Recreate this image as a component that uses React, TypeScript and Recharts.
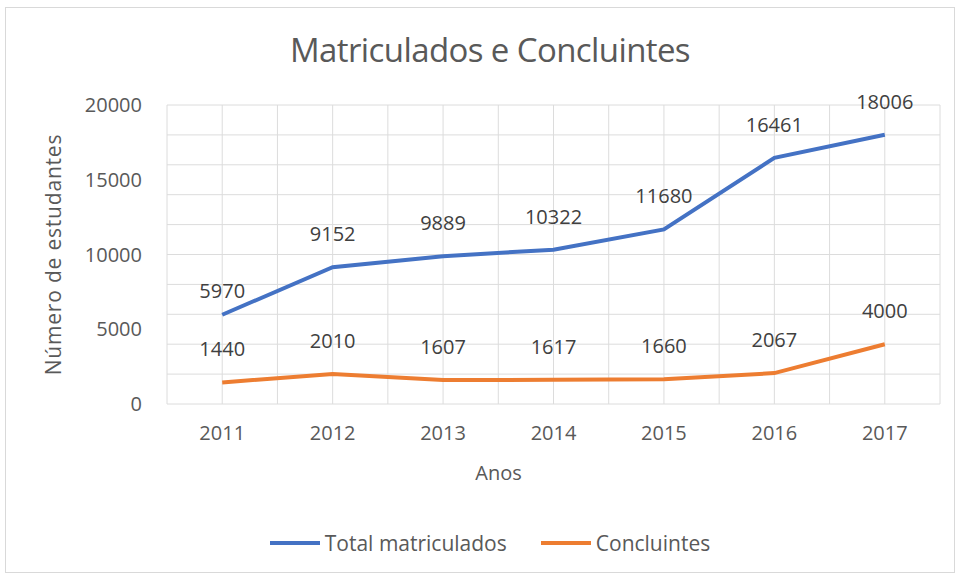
import { LineChart, Line, XAxis, YAxis, CartesianGrid, Legend, LabelList, Label } from 'recharts'

const years = [2011, 2012, 2013, 2014, 2015, 2016, 2017]
const totalMatriculados = [5970, 9152, 9889, 10322, 11680, 16461, 18006]
const concluintes = [1440, 2010, 1607, 1617, 1660, 2067, 4000]
const yTicks = [0, 5000, 10000, 15000, 20000]
const yGridValues = [0, 1000, 2000, 3000, 4000, 5000, 6000, 7000, 8000, 9000, 10000, 11000, 12000, 13000, 14000, 15000, 16000, 17000, 18000, 19000, 20000]
const xGridValues = [2010.5, 2011, 2011.5, 2012, 2012.5, 2013, 2013.5, 2014, 2014.5, 2015, 2015.5, 2016, 2016.5, 2017, 2017.5]

const data = years.map((year, i) => ({
  year,
  total: totalMatriculados[i],
  concluintes: concluintes[i],
}))

const font = '"Open Sans", sans-serif'
const textColor = '#595959'

function LegendContent() {
  const items = [
    { name: 'Total matriculados', color: '#4472C4' },
    { name: 'Concluintes', color: '#ED7D31' },
  ]
  return (
    <div style={{ display: 'flex', justifyContent: 'center', alignItems: 'center', height: 36, gap: 34, fontFamily: font, fontSize: 21, color: textColor }}>
      {items.map(it => (
        <div key={it.name} style={{ display: 'flex', alignItems: 'center', gap: 5 }}>
          <span style={{ display: 'inline-block', width: 50, height: 4, background: it.color }} />
          <span>{it.name}</span>
        </div>
      ))}
    </div>
  )
}

// Excel puts the first blue label a bit closer to the line
function TotalLabel(props: any) {
  const { x, y, width, value, index } = props
  const off = index === 0 ? 17 : 26
  return (
    <text x={x + (width || 0) / 2} y={y - off} textAnchor="middle" fill="#404040" fontSize={20} fontFamily={font}>
      {value}
    </text>
  )
}

export default function App() {
  return (
    <div style={{ position: 'absolute', left: 0, top: 0, width: 960, height: 576, background: '#fff' }}>
      <div style={{ position: 'absolute', left: 5, top: 7, width: 948, height: 564, border: '1px solid #d9d9d9' }} />
      <div style={{ position: 'absolute', left: 0, top: 27, width: 980, textAlign: 'center', fontFamily: font, fontSize: 33, color: textColor, letterSpacing: -0.6 }}>
        Matriculados e Concluintes
      </div>
      <LineChart width={960} height={576} data={data} margin={{ top: 105, right: 20, left: 40, bottom: 15 }} style={{ position: 'absolute', left: 0, top: 0 }}>
        <CartesianGrid horizontalValues={yGridValues} verticalValues={xGridValues} stroke="#dcdcdc" strokeWidth={1} />
        <XAxis
          dataKey="year"
          type="number"
          domain={[2010.5, 2017.5]}
          ticks={years}
          height={121}
          axisLine={false}
          tickLine={false}
          tickMargin={16}
          tick={{ fill: textColor, fontSize: 20, fontFamily: font }}
        >
          <Label value="Anos" position="insideTop" offset={62} dx={-55} style={{ fill: textColor, fontSize: 20, fontFamily: font }} />
        </XAxis>
        <YAxis
          domain={[0, 20000]}
          ticks={yTicks}
          width={127}
          axisLine={false}
          tickLine={false}
          tickMargin={19}
          tick={{ fill: textColor, fontSize: 20, fontFamily: font }}
        >
          <Label value="Número  de estudantes" angle={-90} position="insideLeft" offset={14} style={{ fill: textColor, fontSize: 21, fontFamily: font, textAnchor: 'middle', letterSpacing: 0.8, whiteSpace: 'pre' }} />
        </YAxis>
        <Legend verticalAlign="bottom" content={<LegendContent />} />
        <Line type="linear" dataKey="total" name="Total matriculados" stroke="#4472C4" strokeWidth={4} dot={false} isAnimationActive={false}>
          <LabelList dataKey="total" content={<TotalLabel />} />
        </Line>
        <Line type="linear" dataKey="concluintes" name="Concluintes" stroke="#ED7D31" strokeWidth={4} dot={false} isAnimationActive={false}>
          <LabelList dataKey="concluintes" position="top" offset={26} style={{ fill: '#404040', fontSize: 20, fontFamily: font }} />
        </Line>
      </LineChart>
    </div>
  )
}
